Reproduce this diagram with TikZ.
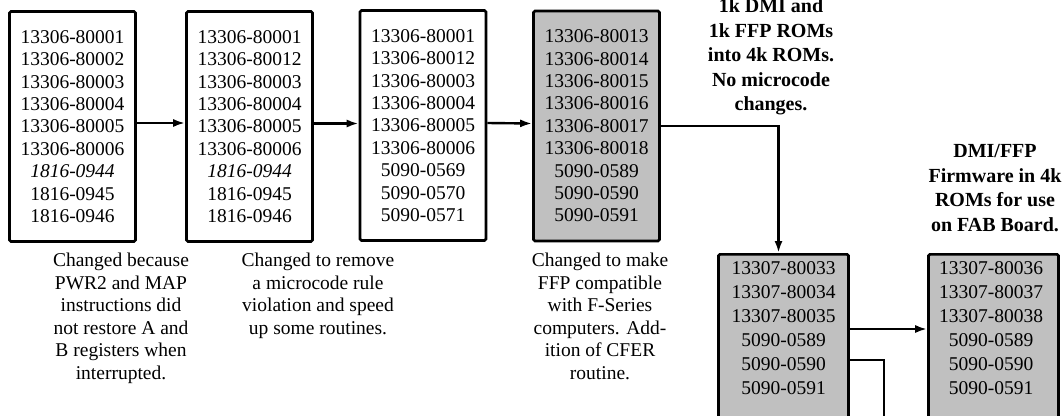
\documentclass[tikz,border=0pt]{standalone}
\usepackage{fontspec}
\setmainfont{Liberation Serif}
\usetikzlibrary{arrows.meta}
\definecolor{boxgray}{RGB}{192,192,192}
\begin{document}
\begin{tikzpicture}[x=1pt,y=-1pt,
  partbox/.style={draw, line width=2.6pt, rounded corners=1.5pt, minimum width=126pt,
    minimum height=230pt, inner sep=0pt, align=center,
    font=\fontsize{19.5}{22.4}\selectfont},
  grayfill/.style={fill=boxgray},
  lowbox/.style={draw, line width=2.6pt, rounded corners=1.5pt, fill=boxgray,
    minimum width=130pt, minimum height=200pt, anchor=north, inner sep=0pt},
  lowtext/.style={anchor=north, inner sep=0pt, align=center,
    font=\fontsize{19.5}{24}\selectfont},
  caption/.style={anchor=north, inner sep=0pt, align=center,
    font=\fontsize{19.5}{22.6}\selectfont},
  note/.style={anchor=north, inner sep=0pt, align=center,
    font=\fontsize{20}{24.5}\selectfont\bfseries},
  conn/.style={line width=2.4pt, -{Latex[length=12pt,width=8pt]}},
  plainconn/.style={line width=2.4pt}
]
\useasboundingbox (0,0) rectangle (1064,415);
\clip (0,0) rectangle (1064,415);

% top row of boxes
\node[partbox] (b1) at (72.5,126.5) {13306-80001\\13306-80002\\13306-80003\\13306-80004\\13306-80005\\13306-80006\\\itshape 1816-0944\\1816-0945\\1816-0946};
\node[partbox] (b2) at (249.5,126.5) {13306-80001\\13306-80012\\13306-80003\\13306-80004\\13306-80005\\13306-80006\\\itshape 1816-0944\\1816-0945\\1816-0946};
\node[partbox] (b3) at (423,125.5) {13306-80001\\13306-80012\\13306-80003\\13306-80004\\13306-80005\\13306-80006\\5090-0569\\5090-0570\\5090-0571};
\node[partbox, grayfill] (b4) at (596.5,126) {13306-80013\\13306-80014\\13306-80015\\13306-80016\\13306-80017\\13306-80018\\5090-0589\\5090-0590\\5090-0591};

% captions
\node[caption] (cap1) at (121,252.8) {Changed because\\PWR2 and MAP\\instructions did\\not restore A and\\B registers when\\interrupted.};
\node[caption] (cap2) at (318,252.8) {Changed to remove\\a microcode rule\\violation and speed\\up some routines.};
\node[caption] (cap3) at (600,252.8) {Changed to make\\FFP compatible\\with F-Series\\computers. Add-\\ition of CFER\\routine.};

% notes
\node[note] (n1) at (771,-1.3) {1k DMI and\\1k FFP ROMs\\into 4k ROMs.\\No microcode\\changes.};
\node[note] (n2) at (995,144.5) {DMI/FFP\\Firmware in 4k\\ROMs for use\\on FAB Board.};

% lower boxes
\node[lowbox] (c1) at (783.5,253) {};
\node[lowtext] (c1t) at (783.5,261.3) {13307-80033\\13307-80034\\13307-80035\\5090-0589\\5090-0590\\5090-0591};
\node[lowbox] (c2) at (993.5,253) {};
\node[lowtext] (c2t) at (991,261.3) {13307-80036\\13307-80037\\13307-80038\\5090-0589\\5090-0590\\5090-0591};
\coordinate (cEnd) at (884,440);

% connectors
\draw[conn] ([yshift=3.5pt]b1.east) -- ([yshift=3.5pt]b2.west);
\draw[conn] ([yshift=3pt]b2.east) -- ([yshift=2pt]b3.west);
\draw[conn] ([yshift=2.5pt]b3.east) -- ([yshift=2.5pt]b4.west);
\draw[conn] (b4.east) -| ([xshift=-5pt]c1.north);
\draw[conn] ([yshift=-76pt]c1.north east) -- ([yshift=-76pt]c2.north west);
\draw[plainconn] ([yshift=-107pt]c1.north east) -| (cEnd);
\end{tikzpicture}
\end{document}
